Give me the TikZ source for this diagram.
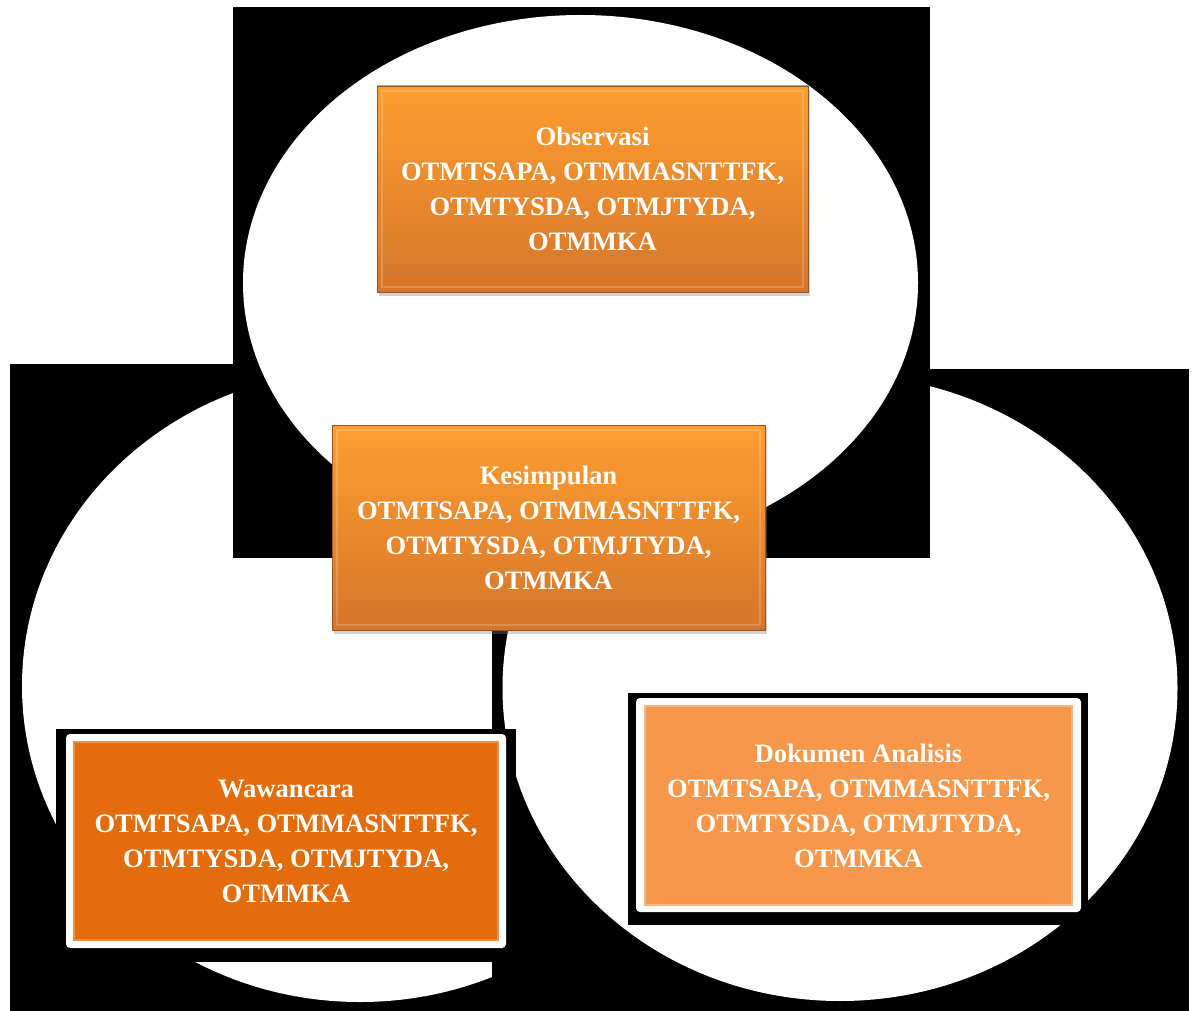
\documentclass[tikz,border=0pt]{standalone}
\usepackage{fontspec}
\setmainfont{Liberation Serif}
\usetikzlibrary{shapes.geometric,shadows,calc}
\definecolor{wawfill}{RGB}{227,108,12}
\definecolor{dokfill}{RGB}{246,151,74}
\definecolor{gradtop}{RGB}{255,158,48}
\definecolor{gradbot}{RGB}{214,117,42}
\definecolor{bevdark}{RGB}{150,85,35}
\begin{document}
\begin{tikzpicture}[x=1pt,y=-1pt,
  blob/.style={ellipse, fill=white, inner sep=0pt, outer sep=0pt},
  backing/.style={rectangle, fill=black, inner sep=0pt, outer sep=0pt},
  framebox/.style={rectangle, fill=white, rounded corners=4pt, inner sep=0pt},
  boxtext/.style={text=white, align=center, font=\fontsize{26.6}{35}\selectfont\bfseries},
  flatbox/.style={rectangle, inner sep=0pt, line width=1.2pt},
  glowbox/.style={rectangle, inner sep=0pt, top color=gradtop, bottom color=gradbot,
    draw=bevdark, line width=0.8pt,
    drop shadow={shadow xshift=1.5pt, shadow yshift=-4pt, opacity=0.35}},
  bevel/.style={line width=2pt, draw=white, opacity=0.18}
]
\useasboundingbox (0,0) rectangle (1194,1011);
\fill[white] (0,0) rectangle (1194,1011);

% left shape
\fill[black] (10,364) rectangle (710,1011);
\node[blob, minimum width=676pt, minimum height=632pt] (lell) at (360,686) {};
% right shape
\fill[black] (492,369) rectangle (1189,1011);
\node[blob, minimum width=675pt, minimum height=626pt] (rell) at (840,688) {};
% top shape
\fill[black] (233,7) rectangle (930,558);
\node[blob, minimum width=675pt, minimum height=536pt] (tell) at (580.5,283) {};

% Wawancara
\node[backing, minimum width=460pt, minimum height=233pt] (wawbk) at (286,845.5) {};
\node[framebox, minimum width=440pt, minimum height=214pt] (wawfr) at (286,841) {};
\node[flatbox, fill=wawfill, draw=wawfill!75!white, minimum width=424pt, minimum height=198pt, boxtext] (waw) at (286,841)
  {Wawancara\\OTMTSAPA, OTMMASNTTFK,\\OTMTYSDA, OTMJTYDA,\\OTMMKA};

% Dokumen Analisis
\node[backing, minimum width=460pt, minimum height=232pt] (dokbk) at (858,809) {};
\node[framebox, minimum width=445pt, minimum height=214pt] (dokfr) at (858.5,805) {};
\node[flatbox, fill=dokfill, draw=dokfill!70!white, minimum width=427pt, minimum height=199pt, boxtext] (dok) at (858.5,805.5)
  {Dokumen Analisis\\OTMTSAPA, OTMMASNTTFK,\\OTMTYSDA, OTMJTYDA,\\OTMMKA};

% Observasi
\node[glowbox, minimum width=431pt, minimum height=206pt, boxtext] (obs) at (592.5,189)
  {Observasi\\OTMTSAPA, OTMMASNTTFK,\\OTMTYSDA, OTMJTYDA,\\OTMMKA};
\draw[bevel] ($(obs.north west)+(5,5)$) rectangle ($(obs.south east)+(-5,-5)$);

% Kesimpulan
\node[glowbox, minimum width=433pt, minimum height=205pt, boxtext] (kes) at (548.5,527.5)
  {Kesimpulan\\OTMTSAPA, OTMMASNTTFK,\\OTMTYSDA, OTMJTYDA,\\OTMMKA};
\draw[bevel] ($(kes.north west)+(5,5)$) rectangle ($(kes.south east)+(-5,-5)$);
\end{tikzpicture}
\end{document}
